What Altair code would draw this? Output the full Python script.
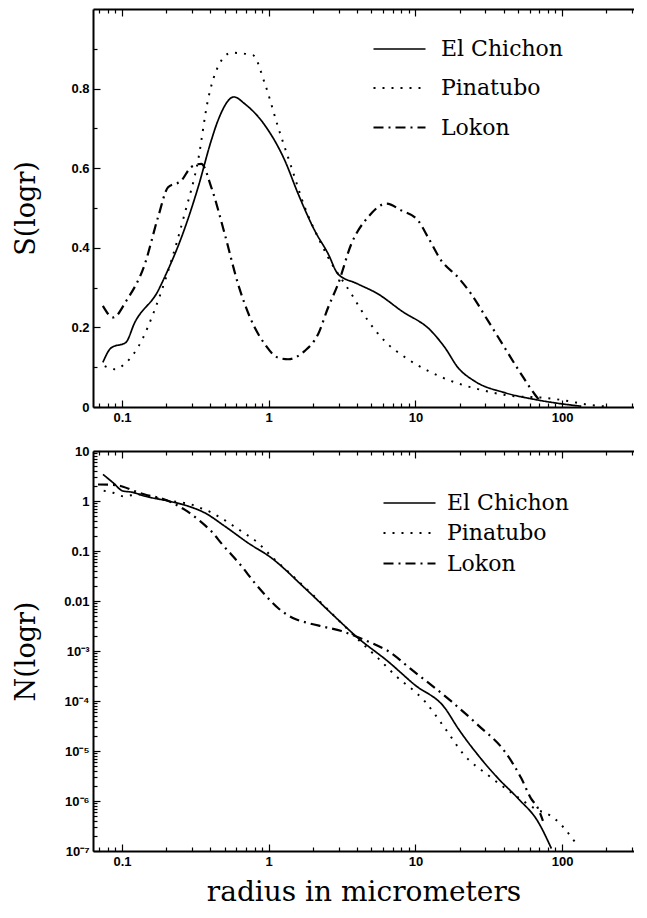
import json
import altair as alt
import pandas as pd

names = ["El Chichon", "Pinatubo", "Lokon"]

# ---- top panel: S(logr) ----
top_r_chichon = [0.074, 0.0845, 0.106, 0.122, 0.176, 0.195, 0.254, 0.33, 0.406, 0.451, 0.58, 0.685, 0.94, 1.285,
                 1.585, 2.06, 2.54, 2.97, 4.0, 5.56, 8.0, 12.8, 15.9, 19.5, 25.3, 40.6, 65, 99, 135]
top_s_chichon = [0.112, 0.149, 0.162, 0.212, 0.292, 0.326, 0.426, 0.552, 0.67, 0.72, 0.779, 0.762, 0.708, 0.62,
                 0.536, 0.443, 0.385, 0.334, 0.31, 0.284, 0.242, 0.191, 0.149, 0.099, 0.065, 0.036, 0.019, 0.008, 0.002]

top_r_pinatubo = [0.0762, 0.089, 0.107, 0.128, 0.176, 0.217, 0.267, 0.33, 0.385, 0.451, 0.556, 0.78, 0.94, 1.157,
                  1.426, 1.76, 2.17, 2.54, 3.66, 4.75, 6.17, 8.9, 12.2, 17.6, 26.7, 45, 76, 110, 143, 205]
top_s_pinatubo = [0.103, 0.095, 0.112, 0.149, 0.267, 0.368, 0.485, 0.62, 0.771, 0.855, 0.89, 0.884, 0.813, 0.704,
                  0.603, 0.502, 0.426, 0.376, 0.284, 0.217, 0.166, 0.12, 0.091, 0.065, 0.045, 0.028, 0.023, 0.015,
                  0.007, 0.001]

top_r_lokon = [0.074, 0.087, 0.107, 0.143, 0.176, 0.206, 0.254, 0.296, 0.347, 0.406, 0.501, 0.618, 0.762, 0.94,
               1.157, 1.355, 1.76, 2.17, 2.54, 2.97, 3.66, 4.75, 6.34, 8.0, 10.4, 12.2, 15.0, 19.5, 24, 31.2, 40.6,
               52.7, 65, 72]
top_s_lokon = [0.254, 0.225, 0.267, 0.359, 0.477, 0.552, 0.569, 0.603, 0.611, 0.552, 0.435, 0.309, 0.217, 0.158,
               0.124, 0.12, 0.141, 0.183, 0.25, 0.309, 0.41, 0.477, 0.511, 0.494, 0.469, 0.426, 0.368, 0.326, 0.284,
               0.217, 0.149, 0.082, 0.032, 0.011]

# ---- bottom panel: N(logr) ----
bot_r_chichon = [0.0742, 0.0869, 0.1016, 0.1157, 0.143, 0.206, 0.282, 0.366, 0.501, 0.723, 1.042, 1.758, 2.97, 4.06,
                 6.5, 9.9, 15.9, 19.5, 26.7, 36.6, 50, 68.5, 84.5]
bot_n_chichon = [3.4, 2.32, 1.58, 1.51, 1.25, 1.0, 0.79, 0.58, 0.314, 0.145, 0.0728, 0.0182, 0.00422, 0.00182,
                 6.19e-4, 2.1e-4, 7.2e-5, 2.85e-5, 8.3e-6, 2.84e-6, 1.13e-6, 3.85e-7, 1.12e-7]

bot_r_pinatubo = [0.075, 0.087, 0.1016, 0.13, 0.167, 0.241, 0.282, 0.339, 0.396, 0.464, 0.542, 0.634, 0.845, 1.069,
                  1.39, 1.80, 2.34, 2.97, 4.38, 5.56, 7.23, 11.6, 15.9, 21.5, 31.2, 47.5, 65, 88.6, 104, 122]
bot_n_pinatubo = [1.6, 1.46, 1.25, 1.35, 1.16, 0.95, 0.89, 0.73, 0.61, 0.475, 0.355, 0.261, 0.145, 0.0728, 0.0363,
                  0.0177, 0.0085, 0.00422, 0.00138, 7.2e-4, 3.33e-4, 9.8e-5, 2.85e-5, 8.3e-6, 3.3e-6, 1.32e-6, 7.1e-7,
                  4.5e-7, 2.8e-7, 1.53e-7]

bot_r_lokon = [0.0686, 0.0869, 0.1016, 0.12, 0.143, 0.195, 0.267, 0.339, 0.41, 0.48, 0.652, 0.803, 0.964, 1.157,
               1.46, 1.85, 2.41, 3.13, 3.95, 5.01, 6.5, 9.38, 17.6, 26.7, 40.6, 52.7, 61.3, 68.5, 74]
bot_n_lokon = [2.14, 2.1, 1.93, 1.6, 1.35, 1.07, 0.67, 0.40, 0.24, 0.138, 0.05, 0.0229, 0.0124, 0.00724, 0.00457,
               0.00363, 0.00302, 0.00251, 0.00195, 0.00145, 0.001, 4.27e-4, 9.8e-5, 3.3e-5, 9.8e-6, 2.84e-6, 1.13e-6,
               7.1e-7, 4e-7]

# ---- axes ----
x_domain = [0.0634, 309]
x_ticks = [0.07, 0.08, 0.09, 0.1, 0.2, 0.3, 0.4, 0.5, 0.6, 0.7, 0.8, 0.9, 1, 2, 3, 4, 5, 6, 7, 8, 9,
           10, 20, 30, 40, 50, 60, 70, 80, 90, 100, 200, 300]
x_major = [0.1, 1, 10, 100]
x_major_labels = ["0.1", "1", "10", "100"]

y_top_ticks = [0, 0.1, 0.2, 0.3, 0.4, 0.5, 0.6, 0.7, 0.8, 0.9]
y_top_major = [0, 0.2, 0.4, 0.6, 0.8]
y_top_labels = ["0", "0.2", "0.4", "0.6", "0.8"]

y_bot_major = [10, 1, 0.1, 0.01, 0.001, 0.0001, 1e-05, 1e-06, 1e-07]
y_bot_labels = ["10", "1", "0.1", "0.01", "10⁻³", "10⁻⁴", "10⁻⁵", "10⁻⁶", "10⁻⁷"]
y_bot_ticks = y_bot_major + [float(f"{k}e{d}") for d in range(-7, 1) for k in range(2, 10)]

SERIF = "DejaVu Serif"
SANS = "Liberation Sans"
dash_range = [[1, 0], [2, 7], [10, 5, 2, 5]]
width_range = [1.7, 2.2, 1.7]
LEGEND_SYMBOL = "M-2,0H2"
PLOT_W = 541


def frame(rs, vs):
    rows = []
    for name, r_list, v_list in zip(names, rs, vs):
        for r, v in zip(r_list, v_list):
            rows.append({"r": r, "v": v, "series": name})
    return pd.DataFrame(rows)


def make_axis(values, majors, labels, orient, show_labels, title=None, major_len=7, minor_len=4,
              domain=True, **extra):
    test = f"indexof({json.dumps(majors)}, datum.value) >= 0"
    params = dict(
        orient=orient, values=values, grid=False, domain=domain, domainColor="black", domainWidth=2,
        tickColor="black", tickWidth=1.2,
        tickSize={"expr": f"{test} ? {-major_len} : {-minor_len}"},
        labels=show_labels, labelOverlap=False, labelFlush=False,
    )
    if show_labels:
        params.update(
            labelExpr=f"{test} ? {json.dumps(labels, ensure_ascii=False)}[indexof({json.dumps(majors)}, datum.value)] : ''",
            labelFont=SANS, labelFontSize=13, labelFontWeight="bold", labelColor="black",
            labelPadding=major_len + 4,
        )
    if title is not None:
        params.update(title=title, titleFont=SERIF, titleFontWeight="normal", titleColor="black")
    else:
        params.update(title=None)
    params.update(extra)
    return alt.Axis(**params)


def panel(df, y_scale, y_ticks, y_major, y_labels, y_title, height, legend_y, legend_x, row_pad, label_off,
          x_title=None):
    base = alt.Chart(df)
    lines = base.mark_line(color="black", interpolate="monotone", clip=True).encode(
        x=alt.X("r:Q", scale=alt.Scale(type="log", domain=x_domain, nice=False),
                axis=make_axis(x_ticks, x_major, x_major_labels, "bottom", True,
                               title=x_title,
                               **({"titleFontSize": 28, "titlePadding": 7} if x_title else {}))),
        y=alt.Y("v:Q", scale=y_scale,
                axis=make_axis(y_ticks, y_major, y_labels, "left", True, title=y_title,
                               titleFontSize=27, titleX=-53, titleY=height / 2)),
        strokeDash=alt.StrokeDash(
            "series:N",
            scale=alt.Scale(domain=names, range=dash_range),
            legend=alt.Legend(
                title=None, orient="none", legendX=legend_x, legendY=legend_y, padding=0,
                symbolType=LEGEND_SYMBOL, symbolSize=676, symbolStrokeWidth=1.5, symbolStrokeColor="black",
                symbolFillColor="transparent",
                labelFont=SERIF, labelFontSize=22, labelColor="black", labelOffset=label_off,
                rowPadding=row_pad,
            ),
        ),
        strokeWidth=alt.StrokeWidth("series:N", scale=alt.Scale(domain=names, range=width_range), legend=None),
        detail="series:N",
    )
    mirror = base.mark_line(opacity=0).encode(
        x=alt.X("r:Q", scale=alt.Scale(type="log", domain=x_domain, nice=False),
                axis=make_axis(x_ticks, x_major, x_major_labels, "top", False)),
        y=alt.Y("v:Q", scale=y_scale, axis=None),
        detail="series:N",
    )
    return alt.layer(lines, mirror).resolve_axis(x="independent", y="independent").properties(
        width=PLOT_W, height=height)


df_top = frame([top_r_chichon, top_r_pinatubo, top_r_lokon], [top_s_chichon, top_s_pinatubo, top_s_lokon])
df_bot = frame([bot_r_chichon, bot_r_pinatubo, bot_r_lokon], [bot_n_chichon, bot_n_pinatubo, bot_n_lokon])

top = panel(df_top, alt.Scale(domain=[0, 1], nice=False), y_top_ticks, y_top_major, y_top_labels,
            "S(logr)", 398, legend_y=26, legend_x=292, row_pad=14, label_off=27)
bottom = panel(df_bot, alt.Scale(type="log", domain=[1e-07, 10], nice=False), y_bot_ticks, y_bot_major,
               y_bot_labels, "N(logr)", 400, legend_y=38, legend_x=302, row_pad=5, label_off=23,
               x_title="radius in micrometers")

chart = alt.vconcat(top, bottom, spacing=18).resolve_scale(
    strokeDash="independent", strokeWidth="independent").resolve_legend(
    strokeDash="independent").properties(
    padding={"left": 4, "top": 0, "right": 0, "bottom": 0}
).configure_view(stroke=None)

chart.save("out.html", embed_options={"renderer": "svg", "actions": False})
